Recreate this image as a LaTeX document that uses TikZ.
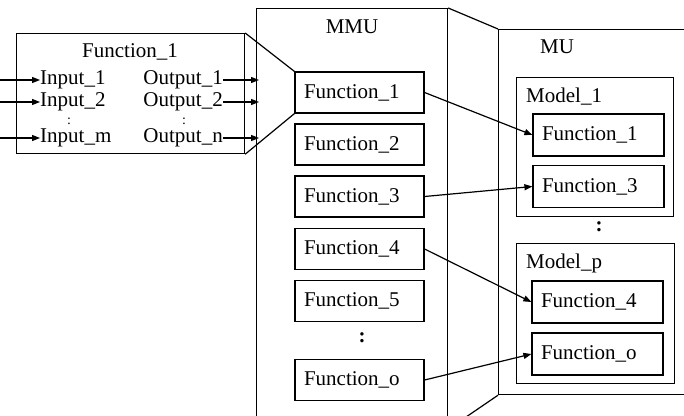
\documentclass[tikz,border=0pt]{standalone}
\usepackage{fontspec}
\setmainfont{Liberation Serif}
\usetikzlibrary{arrows.meta}
\begin{document}
\begin{tikzpicture}[x=1pt,y=-1pt,
  every node/.style={font=\fontsize{21}{25}\selectfont},
  box/.style={draw,line width=1.2pt,rectangle,inner sep=0pt},
  fbox/.style={box,minimum width=129pt,minimum height=41pt,text width=111pt,align=left},
  gbox/.style={box,minimum width=131pt,minimum height=42pt,text width=113pt,align=left},
  lbl/.style={inner sep=0pt},
  ln/.style={line width=1.2pt},
  arr/.style={line width=1.2pt,-{Triangle[length=8pt,width=6pt]}},
  dots/.style={inner sep=0pt,font=\fontsize{14}{16}\selectfont},
  bdots/.style={inner sep=0pt,font=\bfseries\fontsize{21}{25}\selectfont}]
\clip (0,0) rectangle (684,415);
% MMU and MU containers
\node[box,minimum width=191pt,minimum height=420pt,anchor=north west] (mmu) at (256,8) {};
\node[box,minimum width=200pt,minimum height=365pt,anchor=north west] (mu) at (498,29) {};
\draw[ln] (mmu.north east) -- (mu.north west);
\draw[ln] (mmu.south east) -- (mu.south west);
\node[lbl] (mmulbl) at (352,27) {MMU};
\node[lbl] (mulbl) at (557,47) {MU};
% MMU functions
\node[fbox] (m1) at (359.5,92.5) {Function\_1};
\node[fbox] (m2) at (359.5,144.5) {Function\_2};
\node[fbox] (m3) at (359.5,196.5) {Function\_3};
\node[fbox] (m4) at (359.5,249) {Function\_4};
\node[fbox] (m5) at (359.5,301) {Function\_5};
\node[bdots] (mdots) at (362,338) {:};
\node[fbox] (mo) at (359.5,380) {Function\_o};
% Models
\node[box,minimum width=157pt,minimum height=139pt,anchor=north west] (model1) at (516,77) {};
\node[lbl,anchor=west] (model1lbl) at (526,97) {Model\_1};
\node[gbox] (u1) at (598.5,135) {Function\_1};
\node[gbox] (u3) at (598.5,186.5) {Function\_3};
\node[bdots] (udots) at (599,227) {:};
\node[box,minimum width=158pt,minimum height=140pt,anchor=north west] (modelp) at (516,243) {};
\node[lbl,anchor=west] (modelplbl) at (526,263) {Model\_p};
\node[gbox] (u4) at (597.5,302) {Function\_4};
\node[gbox] (uo) at (597.5,354) {Function\_o};
% arrows between
\draw[arr] (m1.east) -- (u1.west);
\draw[arr] (m3.east) -- (u3.west);
\draw[arr] (m4.east) -- (u4.west);
\draw[arr] (mo.east) -- (uo.west);
% big Function_1 box
\node[box,minimum width=228pt,minimum height=120pt,anchor=north west] (big) at (16,33) {};
\draw[ln] (big.north east) -- (m1.north west);
\draw[ln] (big.south east) -- (m1.south west);
\node[lbl] (bigtitle) at (130,52) {Function\_1};
\node[lbl,anchor=west] (in1) at (40,80) {Input\_1};
\node[lbl,anchor=west] (in2) at (40,102) {Input\_2};
\node[dots] (indots) at (69,121) {:};
\node[lbl,anchor=west] (inm) at (40,138) {Input\_m};
\node[lbl,anchor=east] (out1) at (223,80) {Output\_1};
\node[lbl,anchor=east] (out2) at (223,102) {Output\_2};
\node[dots] (outdots) at (184,121) {:};
\node[lbl,anchor=east] (outn) at (223,138) {Output\_n};
\coordinate (i1) at (0,80);
\coordinate (i2) at (0,102);
\coordinate (im) at (0,138);
\coordinate (o1) at (259,80);
\coordinate (o2) at (259,102);
\coordinate (on) at (259,138);
\draw[arr] (i1) -- (in1.west);
\draw[arr] (i2) -- (in2.west);
\draw[arr] (im) -- (inm.west);
\draw[arr] (out1.east) -- (o1);
\draw[arr] (out2.east) -- (o2);
\draw[arr] (outn.east) -- (on);
\end{tikzpicture}
\end{document}
